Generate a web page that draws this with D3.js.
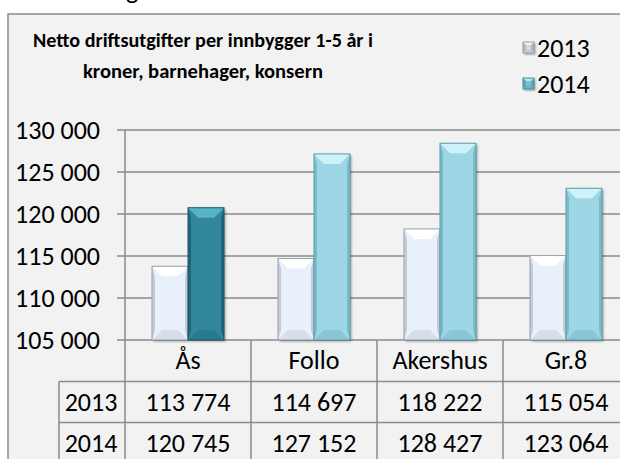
<!DOCTYPE html>
<html>
<head>
<meta charset="utf-8">
<style>
  body { margin: 0; background: #fff; }
  svg text { font-family: Carlito, Lato, "Open Sans", sans-serif; fill: #000; }
  .title { font-weight: bold; font-size: 21px; text-anchor: middle; }
  .tick { font-size: 26px; text-anchor: end; }
  .cell { font-size: 26px; text-anchor: middle; }
  .leg { font-size: 26px; }
</style>
<script src="https://d3js.org/d3.v7.min.js"></script>
</head>
<body>
<svg width="620" height="459"></svg>
<script>
// data
var categories = ["Ås", "Follo", "Akershus", "Gr.8"];
var seriesNames = ["2013", "2014"];
var values2013 = [113774, 114697, 118222, 115054];
var values2014 = [120745, 127152, 128427, 123064];
var yTicks = [105000, 110000, 115000, 120000, 125000, 130000];
var titleLines = ["Netto driftsutgifter per innbygger 1-5 år i", "kroner, barnehager, konsern"];

var svg = d3.select("svg");
var lineCol = "#8a8a8a";

var nb = d3.formatLocale({ decimal: ",", thousands: " ", grouping: [3], currency: ["", ""] });
var fmt = nb.format(",d");

// bar looks
var looks = {
    "2013": { main: "#e8f0fb", top: "#ffffff", side: "#c5ccd8", bottom: "#d6deea", edge: "#9aa1ad" },
    "2014": { main: "#9dd6e5", top: "#cdf3f9", side: "#79bccd", bottom: "#8ac6d6", edge: "#5f9aaa" },
    "hl":   { main: "#31879c", top: "#56b3c8", side: "#1f6678", bottom: "#2a7a8e", edge: "#1b5869" }
};

// frame (plus the tail of a heading above it)
svg.append("text").attr("x", 126).attr("y", -1).style("font-size", "26px").text("g");
svg.append("rect").attr("x", 8).attr("y", 14).attr("width", 700).attr("height", 520)
   .attr("fill", "#f2f2f2").attr("stroke", lineCol).attr("stroke-width", 1.5);

var defs = svg.append("defs");
var f = defs.append("filter").attr("id", "sh").attr("x", "-20%").attr("y", "-10%").attr("width", "150%").attr("height", "130%");
f.append("feDropShadow").attr("dx", 1.5).attr("dy", 1.5).attr("stdDeviation", 1.2)
 .attr("flood-color", "#000").attr("flood-opacity", 0.35);

var x = d3.scaleBand().domain(categories).range([125, 629]);
var xs = d3.scaleBand().domain(seriesNames).range([0, x.bandwidth()]).paddingOuter(0.75);
var y = d3.scaleLinear().domain([105000, 130000]).range([340, 130]);

// title, squeezed a little to get Calibri-like widths
var titleW = [340, 240];
svg.selectAll(".title").data(titleLines).enter().append("text")
   .attr("class", "title").attr("x", 203).attr("y", function(d, i) { return 47 + i * 31; })
   .attr("textLength", function(d, i) { return titleW[i]; })
   .attr("lengthAdjust", "spacingAndGlyphs")
   .text(function(d) { return d; });

// gridlines + ticks
svg.selectAll(".grid").data(yTicks).enter().append("line")
   .attr("x1", 117).attr("x2", 620)
   .attr("y1", function(d) { return y(d); }).attr("y2", function(d) { return y(d); })
   .attr("stroke", lineCol).attr("stroke-width", 1.5);
svg.selectAll(".tick").data(yTicks).enter().append("text")
   .attr("class", "tick").attr("x", 100).attr("y", function(d) { return y(d) + 9; })
   .text(function(d) { return fmt(d); });
svg.append("line").attr("x1", 125).attr("x2", 125).attr("y1", y(130000)).attr("y2", 459)
   .attr("stroke", lineCol).attr("stroke-width", 1.5);

// bars
var rows = [];
categories.forEach(function(c, i) {
    rows.push({ cat: c, s: "2013", v: values2013[i], look: looks["2013"] });
    rows.push({ cat: c, s: "2014", v: values2014[i], look: i === 0 ? looks.hl : looks["2014"] });
});

function bevel(g, x0, x1, y0, y1, lk, b) {
    g.append("rect").attr("x", x0).attr("y", y0).attr("width", x1 - x0).attr("height", y1 - y0)
     .attr("fill", lk.main).attr("filter", "url(#sh)");
    var s = 3;
    g.append("polygon").attr("points", [[x0, y0], [x0 + s, y0 + b], [x0 + s, y1 - b], [x0, y1]].join(" ")).attr("fill", lk.side);
    g.append("polygon").attr("points", [[x1, y0], [x1 - s, y0 + b], [x1 - s, y1 - b], [x1, y1]].join(" ")).attr("fill", lk.side);
    g.append("polygon").attr("points", [[x0, y0], [x1, y0], [x1 - b, y0 + b], [x0 + b, y0 + b]].join(" ")).attr("fill", lk.top);
    g.append("polygon").attr("points", [[x0, y1], [x1, y1], [x1 - b, y1 - b], [x0 + b, y1 - b]].join(" ")).attr("fill", lk.bottom);
    g.append("rect").attr("x", x0).attr("y", y0).attr("width", x1 - x0).attr("height", y1 - y0)
     .attr("fill", "none").attr("stroke", lk.edge).attr("stroke-width", 1);
}

rows.forEach(function(d) {
    var x0 = x(d.cat) + xs(d.s), x1 = x0 + xs.bandwidth();
    bevel(svg.append("g"), x0, x1, y(d.v), y(105000), d.look, 10);
});

// data table under the plot
[381.5, 422.5].forEach(function(yy) {
    svg.append("line").attr("x1", 59).attr("x2", 620).attr("y1", yy).attr("y2", yy)
       .attr("stroke", lineCol).attr("stroke-width", 1.5);
});
svg.append("line").attr("x1", 59).attr("x2", 59).attr("y1", 381.5).attr("y2", 459)
   .attr("stroke", lineCol).attr("stroke-width", 1.5);
categories.forEach(function(c) {
    svg.append("line").attr("x1", x(c) + x.bandwidth()).attr("x2", x(c) + x.bandwidth())
       .attr("y1", y(105000)).attr("y2", 459).attr("stroke", lineCol).attr("stroke-width", 1.5);
});
var cx = function(c) { return x(c) + x.bandwidth() / 2; };
svg.selectAll(".cat").data(categories).enter().append("text").attr("class", "cell")
   .attr("x", cx).attr("y", 369).text(function(d) { return d; });
[values2013, values2014].forEach(function(vals, r) {
    var yy = 411 + r * 41;
    svg.append("text").attr("class", "cell").attr("x", 91).attr("y", yy).text(seriesNames[r]);
    svg.selectAll(".v" + r).data(vals).enter().append("text").attr("class", "cell")
       .attr("x", function(d, i) { return cx(categories[i]); }).attr("y", yy)
       .text(function(d) { return fmt(d); });
});

// legend
var legLooks = [
    { main: "#d4d8e0", top: "#eef0f4", side: "#b0b6c2", bottom: "#c4c8d2", edge: "#9aa1ad" },
    { main: "#74c2d4", top: "#b4e6f0", side: "#5aa6b8", bottom: "#66b2c4", edge: "#4e8e9e" }
];
seriesNames.forEach(function(s, i) {
    var ly = 57 + i * 36;
    bevel(svg.append("g"), 523, 534, ly - 15, ly - 4, legLooks[i], 3);
    svg.append("text").attr("class", "leg").attr("x", 537).attr("y", ly).text(s);
});
</script>
</body>
</html>
